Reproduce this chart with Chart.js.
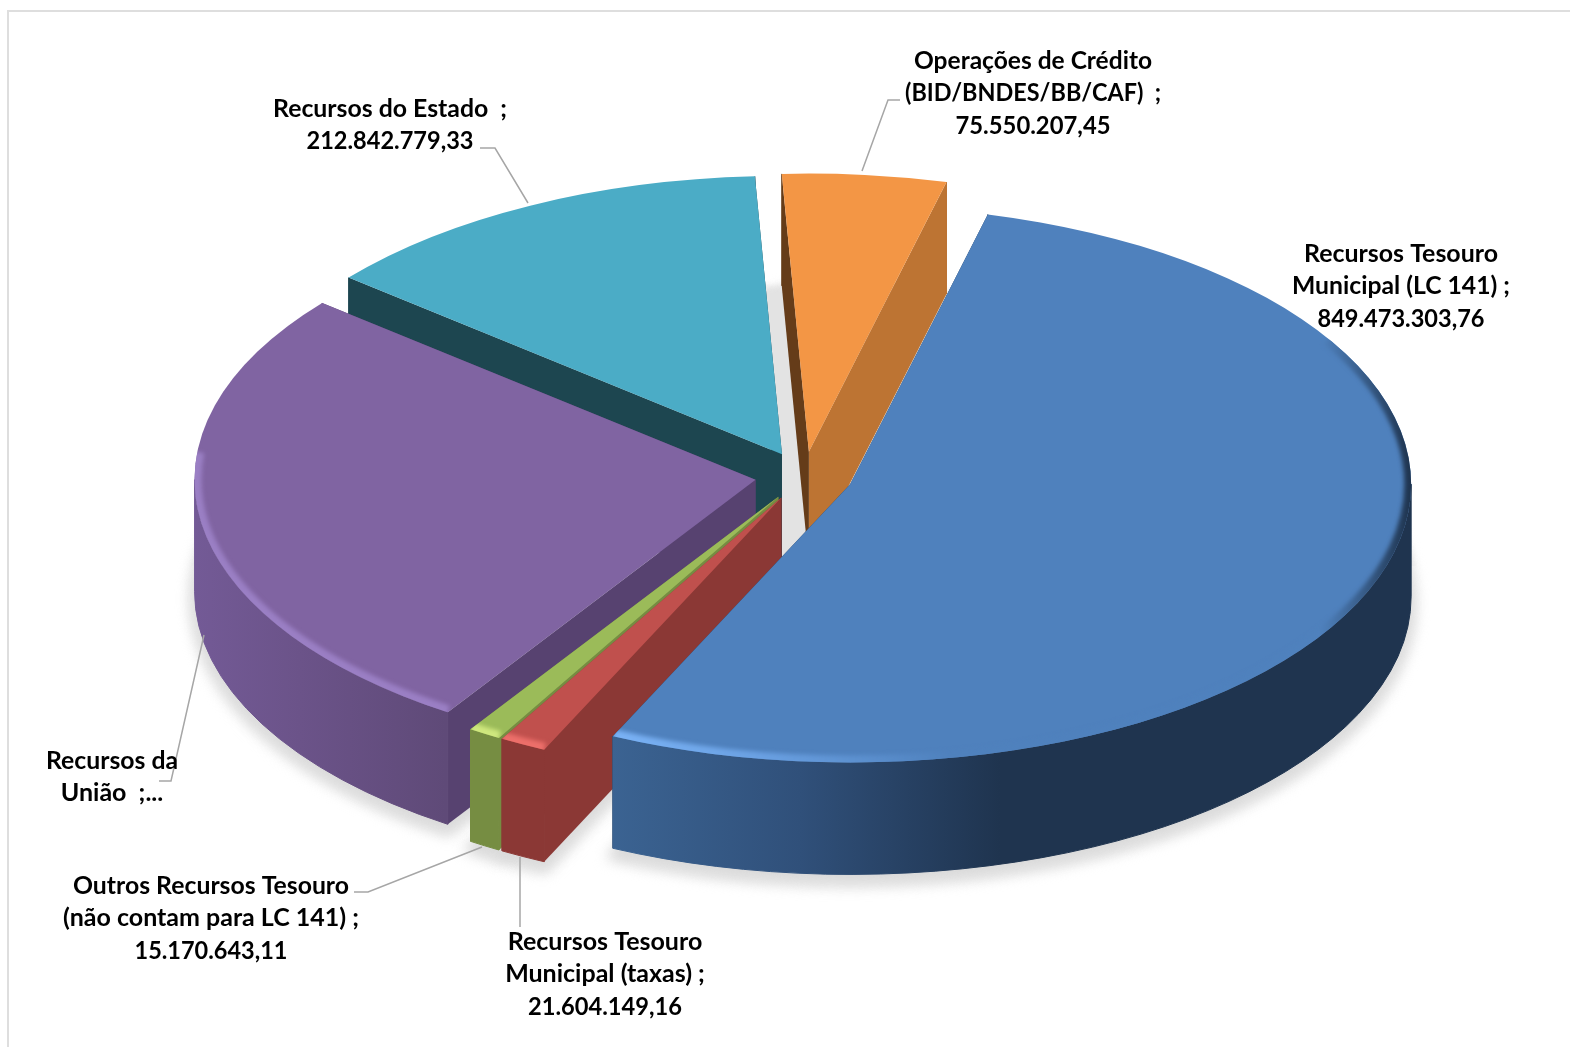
<!doctype html>
<html lang="pt-BR">

<head>
    <title>Fontes de recursos</title>
    <meta charset="utf-8" />
    <script src="https://cdn.jsdelivr.net/npm/chart.js@4"></script>
    <style>
        body {
            margin: 0;
            background: #fff;
        }
        #frame {
            position: absolute;
            left: 7px;
            top: 10px;
            width: 1570px;
            height: 1047px;
            border-left: 2px solid #dedede;
            border-top: 2px solid #dedede;
        }
        #myChart {
            position: absolute;
            left: 0;
            top: 0;
        }
        html, body {
            overflow: hidden;
        }
    </style>
</head>

<body>
    <div id="frame"></div>
    <canvas id="myChart" width="1570" height="1047"></canvas>

    <script>
        // values in R$, Recursos da Uniao is cut in the label so it is estimated from the slice
        const categories = [
            'Recursos Tesouro Municipal (LC 141)',
            'Recursos Tesouro Municipal (taxas)',
            'Outros Recursos Tesouro (não contam para LC 141)',
            'Recursos da União',
            'Recursos do Estado',
            'Operações de Crédito (BID/BNDES/BB/CAF)'
        ];
        const values = [849473303.76, 21604149.16, 15170643.11, 428000000, 212842779.33, 75550207.45];
        const labelLines = [
            ['Recursos Tesouro', 'Municipal (LC 141) ;', '849.473.303,76'],
            ['Recursos Tesouro', 'Municipal (taxas) ;', '21.604.149,16'],
            ['Outros Recursos Tesouro', '(não contam para LC 141) ;', '15.170.643,11'],
            ['Recursos da', 'União  ;...'],
            ['Recursos do Estado  ;', '212.842.779,33'],
            ['Operações de Crédito', '(BID/BNDES/BB/CAF)  ;', '75.550.207,45']
        ];

        const topColors = ['#4f81bd', '#c0504d', '#9bbb59', '#8064a2', '#4bacc6', '#f39645'];
        const cutStartColors = ['#1f344f', '#8b3835', '#768d42', '#574270', '#1d4650', '#653c19'];
        const cutEndColors = ['#1f344f', '#8b3835', '#768d42', '#574270', '#1d4650', '#bd7433'];
        // [x, colour] stops running left to right
        const wallStops = [
            [[612, '#3b6392'], [800, '#30507a'], [1000, '#1f344f'], [1411, '#1f344f']],
            [[498, '#8b3835'], [548, '#8b3835']],
            [[467, '#768d42'], [498, '#768d42']],
            [[195, '#735a96'], [300, '#6b5389'], [445, '#5f4a78']],
            [[340, '#1d4650'], [760, '#1d4650']],
            [[780, '#bd7433'], [945, '#bd7433']]
        ];
        const rimStops = [
            [[612, '#7ab2f5'], [760, '#6aa0e2'], [950, '#4f81bd'], [1320, '#4f81bd'], [1411, '#1f344f']],
            [[498, '#ec6f6a'], [548, '#ec6f6a']],
            [[467, '#cfe77e'], [498, '#cfe77e']],
            [[195, '#9a7fc4'], [445, '#9a7fc4']],
            [[340, '#4bacc6'], [760, '#4bacc6']],
            [[780, '#f39645'], [945, '#f39645']]
        ];

        // layout of the text, center x and first line y, and the widest each line may get
        const labelPos = [[1401, 254], [605, 942], [211, 886], [112, 761], [390, 109], [1033, 61]];
        const labelWidths = [
            [194, 218, 167],
            [195, 204, 154],
            [276, 296, 153],
            [132, 103],
            [234, 167],
            [238, 256, 155]
        ];
        const leaders = [
            [],
            [[520, 857], [520, 927]],
            [[482, 847], [368, 892], [354, 892]],
            [[204, 635], [171, 781], [159, 781]],
            [[528, 203], [495, 148], [480, 148]],
            [[862, 171], [888, 100], [900, 100]]
        ];

        const tilt = 0.496;
        const explode = 49;
        const depth = 112;
        const lineHeight = 32.4;

        function sliceGeom(arc) {
            const mid = (arc.startAngle + arc.endAngle) / 2;
            return {
                x: arc.x + Math.cos(mid) * explode,
                y: arc.y + Math.sin(mid) * explode * tilt,
                r: arc.outerRadius,
                start: arc.startAngle,
                end: arc.endAngle
            };
        }

        function edgePoint(g, angle, dy) {
            return [g.x + g.r * Math.cos(angle), g.y + g.r * tilt * Math.sin(angle) + dy];
        }

        function hGradient(ctx, stops) {
            const x0 = stops[0][0];
            const x1 = stops[stops.length - 1][0];
            const grad = ctx.createLinearGradient(x0, 0, x1, 0);
            stops.forEach(s => grad.addColorStop((s[0] - x0) / (x1 - x0), s[1]));
            return grad;
        }

        function topPath(ctx, g, dy) {
            ctx.beginPath();
            ctx.moveTo(g.x, g.y + dy);
            ctx.ellipse(g.x, g.y + dy, g.r, g.r * tilt, 0, g.start, g.end);
            ctx.closePath();
        }

        function drawCut(ctx, g, angle, color) {
            const p = edgePoint(g, angle, 0);
            ctx.beginPath();
            ctx.moveTo(g.x, g.y);
            ctx.lineTo(p[0], p[1]);
            ctx.lineTo(p[0], p[1] + depth);
            ctx.lineTo(g.x, g.y + depth);
            ctx.closePath();
            ctx.fillStyle = color;
            ctx.fill();
            // only the corner to the outer wall, so no seam shows there
            ctx.beginPath();
            ctx.moveTo(p[0], p[1]);
            ctx.lineTo(p[0], p[1] + depth);
            ctx.strokeStyle = color;
            ctx.lineWidth = 1;
            ctx.stroke();
        }

        function drawWall(ctx, g, stops) {
            const a0 = Math.max(g.start, 0);
            const a1 = Math.min(g.end, Math.PI);
            if (a1 <= a0) return;
            ctx.beginPath();
            ctx.ellipse(g.x, g.y, g.r, g.r * tilt, 0, a0, a1);
            ctx.ellipse(g.x, g.y + depth, g.r, g.r * tilt, 0, a1, a0, true);
            ctx.closePath();
            ctx.fillStyle = hGradient(ctx, stops);
            ctx.strokeStyle = ctx.fillStyle;
            ctx.lineWidth = 1;
            ctx.fill();
            ctx.stroke();
        }

        function drawRim(ctx, g, stops) {
            const a0 = Math.max(g.start, -0.55);
            const a1 = Math.min(g.end, Math.PI + 0.1);
            if (a1 <= a0) return;
            ctx.save();
            topPath(ctx, g, 0);
            ctx.clip();
            ctx.filter = 'blur(2px)';
            ctx.beginPath();
            ctx.ellipse(g.x, g.y, g.r, g.r * tilt, 0, a0, a1);
            ctx.strokeStyle = hGradient(ctx, stops);
            ctx.lineWidth = 14;
            ctx.stroke();
            ctx.restore();
        }

        const pie3d = {
            id: 'pie3d',
            beforeDatasetsDraw(chart) {
                const ctx = chart.ctx;
                const arcs = chart.getDatasetMeta(0).data;
                const order = arcs.map((a, i) => i).reverse();

                // floor shadow
                ctx.save();
                ctx.filter = 'blur(7px)';
                ctx.fillStyle = '#d6d6d6';
                ctx.strokeStyle = '#d6d6d6';
                ctx.lineWidth = 8;
                arcs.forEach(arc => {
                    topPath(ctx, sliceGeom(arc), depth + 7);
                    ctx.fill();
                    ctx.stroke();
                });
                ctx.restore();
                ctx.save();
                ctx.beginPath();
                ctx.rect(0, 0, chart.width, arcs[0].y + 90);
                ctx.clip();
                ctx.beginPath();
                ctx.filter = 'blur(3px)';
                ctx.ellipse(arcs[0].x, arcs[0].y + depth, 610, 610 * tilt, 0, 0, Math.PI * 2);
                ctx.fillStyle = '#e3e3e3';
                ctx.fill();
                ctx.restore();

                order.forEach(i => {
                    const arc = arcs[i];
                    const g = sliceGeom(arc);
                    drawCut(ctx, g, g.end, cutEndColors[i]);
                    drawCut(ctx, g, g.start, cutStartColors[i]);
                    drawWall(ctx, g, wallStops[i]);

                    // top face comes from the library arc, flattened and moved out
                    ctx.save();
                    ctx.translate(g.x, g.y);
                    ctx.scale(1, tilt);
                    ctx.translate(-arc.x, -arc.y);
                    arc.draw(ctx);
                    ctx.restore();

                    drawRim(ctx, g, rimStops[i]);
                });
                return false;
            },
            afterDraw(chart) {
                const ctx = chart.ctx;
                ctx.save();
                ctx.strokeStyle = '#a6a6a6';
                ctx.lineWidth = 1.5;
                leaders.forEach(pts => {
                    if (!pts.length) return;
                    ctx.beginPath();
                    pts.forEach((p, i) => i ? ctx.lineTo(p[0], p[1]) : ctx.moveTo(p[0], p[1]));
                    ctx.stroke();
                });
                ctx.fillStyle = '#000';
                ctx.font = 'bold 25px Lato';
                ctx.textAlign = 'center';
                ctx.textBaseline = 'middle';
                labelLines.forEach((lines, i) => {
                    lines.forEach((line, j) => {
                        ctx.fillText(line, labelPos[i][0], labelPos[i][1] + j * lineHeight, labelWidths[i][j]);
                    });
                });
                ctx.restore();
            }
        };

        new Chart(document.getElementById('myChart'), {
            type: 'pie',
            data: {
                labels: categories,
                datasets: [{
                    data: values,
                    backgroundColor: topColors,
                    borderWidth: 0,
                    hoverOffset: 0
                }]
            },
            options: {
                responsive: false,
                animation: false,
                events: [],
                rotation: 14.2,
                radius: 561,
                layout: { padding: { left: 38, bottom: 95 } },
                plugins: {
                    legend: { display: false },
                    tooltip: { enabled: false }
                }
            },
            plugins: [pie3d]
        });
    </script>
</body>

</html>
